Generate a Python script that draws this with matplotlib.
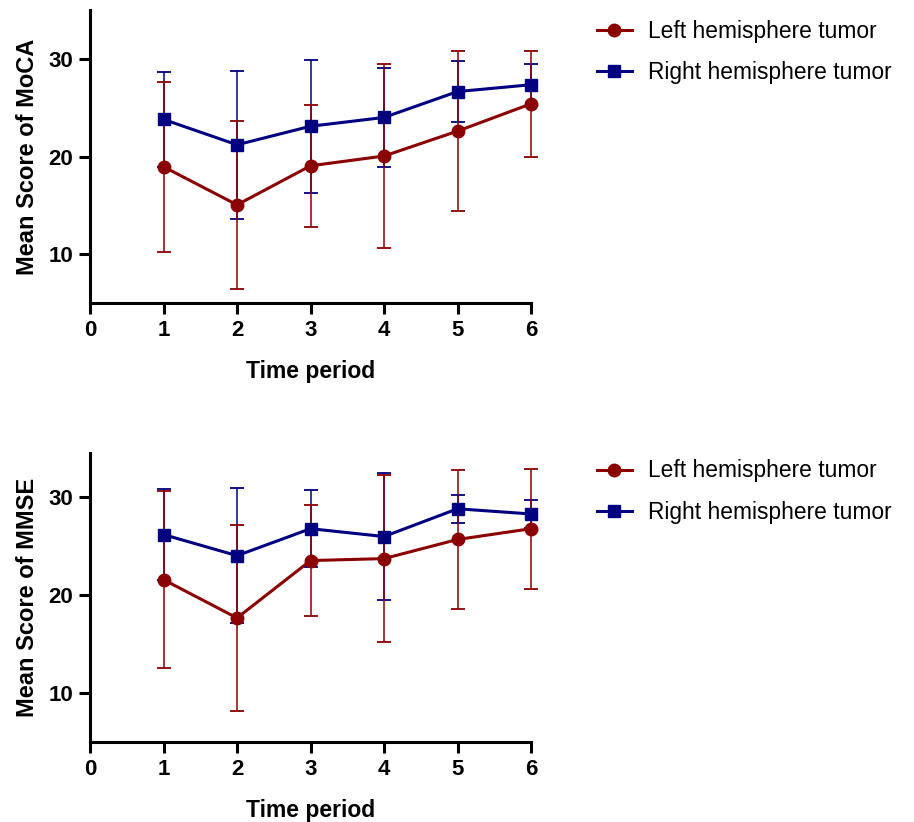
import numpy as np
import matplotlib
matplotlib.use("Agg")
import matplotlib.pyplot as plt

plt.rcParams['font.family'] = ['Liberation Sans', 'DejaVu Sans']

periods = [1, 2, 3, 4, 5, 6]
series_names = ['Left hemisphere tumor', 'Right hemisphere tumor']

# MoCA: means and SD
moca_left = [18.95, 15.05, 19.05, 20.05, 22.6, 25.4]
moca_left_sd = [8.7, 8.6, 6.25, 9.4, 8.2, 5.45]
moca_right = [23.8, 21.2, 23.1, 24.0, 26.65, 27.35]
moca_right_sd = [4.85, 7.6, 6.8, 5.1, 3.15, 2.15]

# MMSE: means and SD
mmse_left = [21.55, 17.65, 23.5, 23.7, 25.65, 26.75]
mmse_left_sd = [9.0, 9.5, 5.7, 8.5, 7.1, 6.1]
mmse_right = [26.15, 24.0, 26.75, 25.95, 28.78, 28.25]
mmse_right_sd = [4.6, 6.85, 3.95, 6.5, 1.4, 1.4]

red = '#8b0000'
blue = '#000080'


def draw_panel(ax, left, left_sd, right, right_sd, ylabel, ylim):
    # error bars first, blue under red
    eb = ax.errorbar(periods, right, yerr=right_sd, fmt='none', ecolor=blue,
                     elinewidth=1.1, capsize=5, capthick=1.3, zorder=2)
    eb2 = ax.errorbar(periods, left, yerr=left_sd, fmt='none', ecolor=red,
                      elinewidth=1.1, capsize=5, capthick=1.3, zorder=3)
    for container in (eb, eb2):
        for art in container.get_children():
            art.set_clip_on(False)
    l1, = ax.plot(periods, left, color=red, lw=2.2, marker='o', ms=9,
                  zorder=4, label=series_names[0], clip_on=False)
    l2, = ax.plot(periods, right, color=blue, lw=2.2, marker='s', ms=8.5,
                  zorder=5, label=series_names[1], clip_on=False)

    ax.set_xlim(0, 6)
    ax.set_ylim(*ylim)
    ax.set_xticks([0, 1, 2, 3, 4, 5, 6])
    ax.set_yticks([10, 20, 30])
    for s in ['top', 'right']:
        ax.spines[s].set_visible(False)
    for s in ['left', 'bottom']:
        ax.spines[s].set_linewidth(2.2)
    ax.tick_params(width=2.2, length=8, labelsize=16, pad=4)
    for t in ax.get_xticklabels() + ax.get_yticklabels():
        t.set_fontweight('bold')
    ax.set_xlabel('Time period', fontsize=16.5, fontweight='bold', labelpad=14)
    ax.set_ylabel(ylabel, fontsize=17, fontweight='bold', labelpad=7)
    return l1, l2


fig = plt.figure(figsize=(9.14, 8.22), dpi=100)
ax1 = fig.add_axes([0.0985, 0.6314, 0.4825, 0.3564])
ax2 = fig.add_axes([0.0985, 0.0973, 0.4825, 0.352])

h = draw_panel(ax1, moca_left, moca_left_sd, moca_right, moca_right_sd,
               'Mean Score of MoCA', (5, 35))
draw_panel(ax2, mmse_left, mmse_left_sd, mmse_right, mmse_right_sd,
           'Mean Score of MMSE', (5, 34.5))

for ax, ytop in [(ax1, 0.976), (ax2, 0.441)]:
    ax.legend(handles=list(h), loc='upper left', bbox_to_anchor=(0.653, ytop),
              bbox_transform=fig.transFigure, frameon=False, fontsize=16.4,
              borderpad=0, borderaxespad=0, handlelength=1.55,
              handletextpad=0.7, labelspacing=0.8)

fig.savefig('out.png', dpi=100)
